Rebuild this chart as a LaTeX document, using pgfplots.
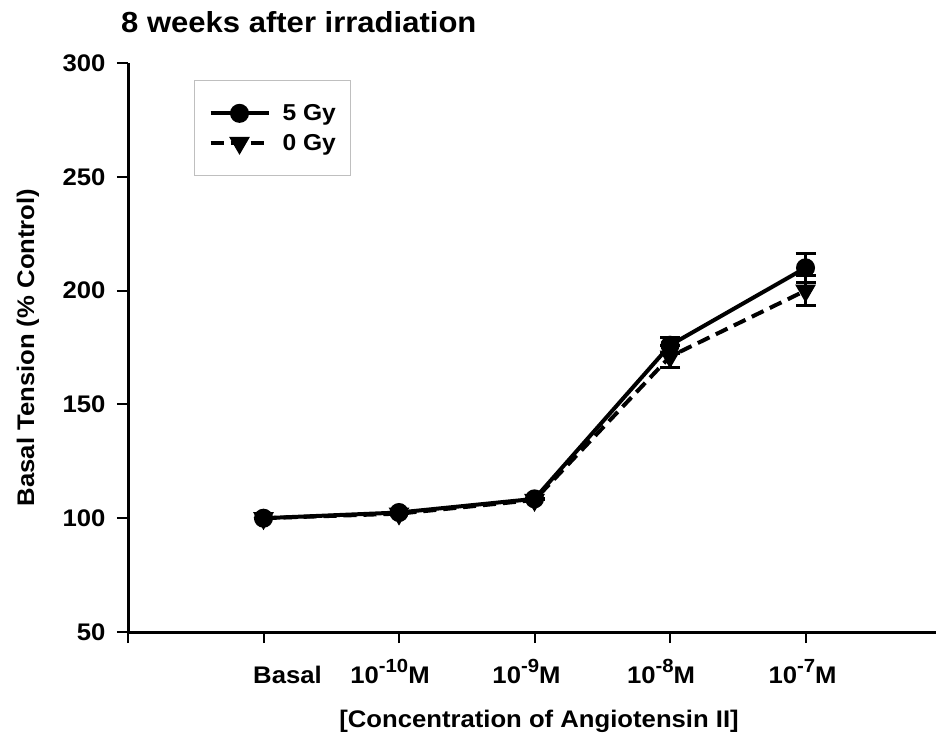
\documentclass[border=0pt]{standalone}
\usepackage{fontspec}
\setmainfont{Liberation Sans}[FakeStretch=1.07]
\usepackage{pgfplots}
\pgfplotsset{compat=1.18}
\newcommand{\sps}[1]{\raisebox{0.45em}{\fontsize{19}{19}\selectfont #1}}
\begin{document}
\begin{tikzpicture}
\useasboundingbox (0,0) rectangle (936pt,736pt);
\node[anchor=base west, inner sep=0pt, font=\fontsize{29}{34}\selectfont\bfseries] at (121pt,703pt) {8 weeks after irradiation};
\begin{axis}[
  at={(128pt,104pt)}, anchor=south west,
  scale only axis, width=808pt, height=569pt,
  xmin=-1, xmax=4.963, ymin=50, ymax=300,
  axis x line*=bottom, axis y line*=left,
  axis line style={line width=3pt, -},
  xtick={-1,0,1,2,3,4},
  xticklabels={,\hspace*{48pt}Basal,10\sps{-10}M\hspace*{18pt},10\sps{-9}M\hspace*{16pt},10\sps{-8}M\hspace*{18pt},10\sps{-7}M\hspace*{6pt}},
  ytick={50,100,150,200,250,300},
  tick align=outside, major tick length=11pt,
  tick style={line width=2pt, black},
  /pgf/number format/assume math mode=true,
  ticklabel style={font=\fontsize{24}{28}\selectfont\bfseries},
  xticklabel style={text height=17pt, yshift=-20pt},
  yticklabel style={xshift=-8pt},
  xlabel={[Concentration of Angiotensin II]},
  ylabel={Basal Tension (\% Control)},
  label style={font=\fontsize{24}{28}\selectfont\bfseries},
  xlabel style={at={(axis description cs:0.5087,-0.167)}, anchor=base},
  ylabel style={at={(axis description cs:-0.124,0.5)}, anchor=center},
  legend style={at={(axis description cs:0.0817,0.970)}, anchor=north west,
    draw=black!25, line width=1pt, font=\fontsize{23}{26}\selectfont\bfseries,
    inner xsep=14pt, inner ysep=23pt, row sep=10pt,
    nodes={inner sep=1pt},
    /tikz/every odd column/.append style={column sep=11pt}},
  legend cell align=left,
  reverse legend,
  legend image code/.code={\draw[mark repeat=2,mark phase=2,#1] plot coordinates {(0pt,0pt) (29pt,0pt) (58pt,0pt)};},
  clip=false,
  error bars/error bar style={line width=3pt, solid},
  error bars/error mark options={rotate=90, mark size=10pt, line width=3pt, solid},
]
\addplot[black, line width=4pt, dash pattern=on 13pt off 7pt,
  mark=triangle*, mark size=8pt, mark options={solid, rotate=180},
  error bars/.cd, y dir=both, y explicit]
  table[x=x, y=y, y error=e] {
x y e
0 100 0
1 102 0
2 108 0
3 171 5
4 200 6.5
};
\addlegendentry{0 Gy}
\addplot[black, line width=4pt, solid,
  mark=*, mark size=7.5pt,
  error bars/.cd, y dir=both, y explicit]
  table[x=x, y=y, y error=e] {
x y e
0 100 0
1 102.5 0
2 108.5 0
3 176 3.5
4 210 6.5
};
\addlegendentry{5 Gy}
\end{axis}
\end{tikzpicture}
\end{document}
